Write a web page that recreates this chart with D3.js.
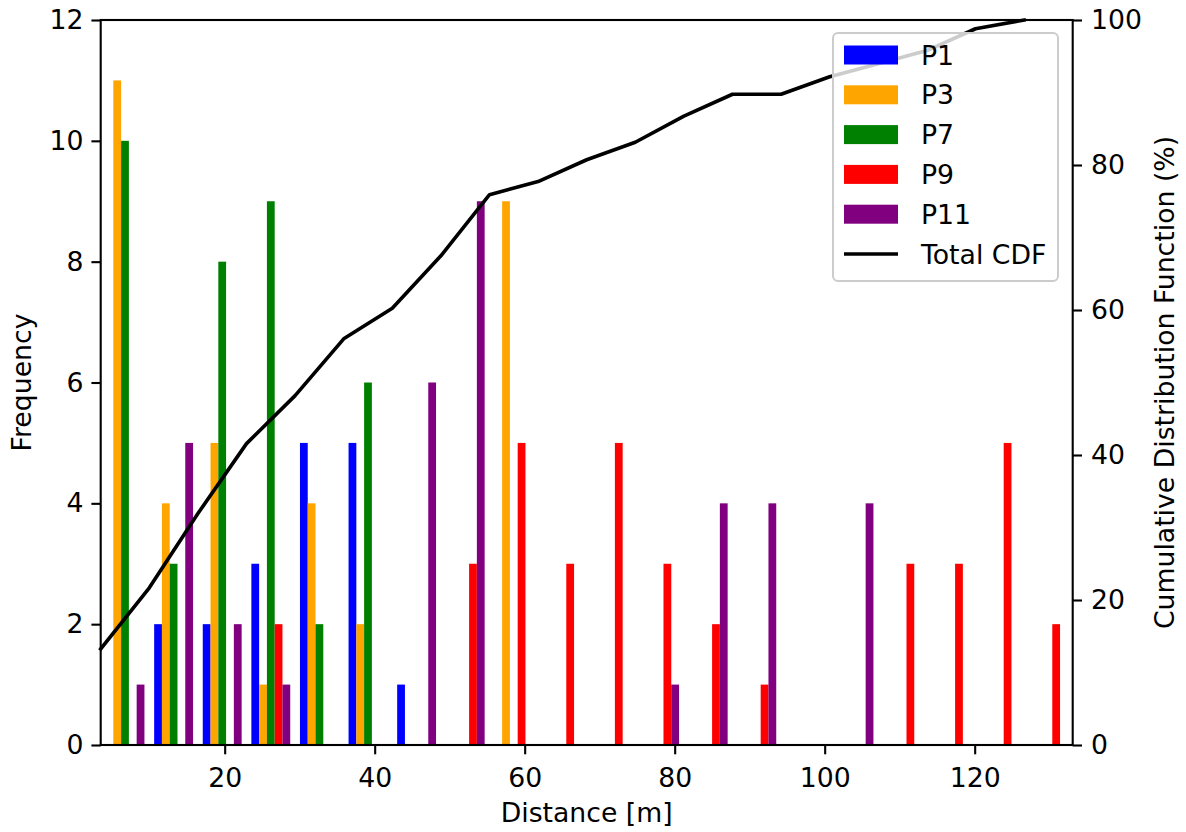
<!DOCTYPE html>
<html>
<head>
<meta charset="utf-8">
<script src="https://cdn.jsdelivr.net/npm/d3@7"></script>
<style>
	body { margin: 0; background: #fff; }
	svg text { font-family: "DejaVu Sans", sans-serif; font-size: 26.7px; fill: #000; }
	.tick text { font-size: 26.7px; }
</style>
</head>
<body>
<svg id="chart"></svg>
<script>
/*=================
=== The data
=================*/
// histogram: 20 bins between these two distances
var binStart = 3.47;
var binEnd = 133.07;
var binCount = 20;

var seriesNames = ['P1', 'P3', 'P7', 'P9', 'P11'];
var seriesColors = ['blue', 'orange', 'green', 'red', 'purple'];

// counts per bin
var countsP1 = [0, 2, 2, 3, 5, 5, 1, 0, 0, 0, 0, 0, 0, 0, 0, 0, 0, 0, 0, 0];
var countsP3 = [11, 4, 5, 1, 4, 2, 0, 0, 9, 0, 0, 0, 0, 0, 0, 0, 0, 0, 0, 0];
var countsP7 = [10, 3, 8, 9, 2, 6, 0, 0, 0, 0, 0, 0, 0, 0, 0, 0, 0, 0, 0, 0];
var countsP9 = [0, 0, 0, 2, 0, 0, 0, 3, 5, 3, 5, 3, 2, 1, 0, 0, 3, 3, 5, 2];
var countsP11 = [1, 5, 2, 1, 0, 0, 6, 9, 0, 0, 0, 1, 4, 4, 0, 4, 0, 0, 0, 0];

var xTicks = [20, 40, 60, 80, 100, 120];
var yTicks = [0, 2, 4, 6, 8, 10, 12];
var y2Ticks = [0, 20, 40, 60, 80, 100];

var allCounts = [countsP1, countsP3, countsP7, countsP9, countsP11];

/*=================
=== The vars
=================*/
var width = 1186;
var height = 832;
var margin = { top: 20, right: 113.3, bottom: 87, left: 100.7 };
var plotW = width - margin.left - margin.right;
var plotH = height - margin.top - margin.bottom;

var svg = d3.select('#chart')
	.attr('width', width)
	.attr('height', height);

var g = svg.append('g')
	.attr('transform', 'translate(' + margin.left + ',' + margin.top + ')');

var binW = (binEnd - binStart) / binCount;
var edges = d3.range(binCount + 1).map(function (i) { return binStart + i * binW; });

var x = d3.scaleLinear().domain([binStart, binEnd]).range([0, plotW]);
var y = d3.scaleLinear().domain([0, 12]).range([plotH, 0]);
var y2 = d3.scaleLinear().domain([0, 100]).range([plotH, 0]);

// cumulative of all series, in percent (plotted at left bin edges)
var totals = d3.range(binCount).map(function (i) {
	return d3.sum(allCounts, function (c) { return c[i]; });
});
var grand = d3.sum(totals);
var running = 0;
var cdf = totals.map(function (t, i) {
	running += t;
	return { x: edges[i], v: running / grand * 100 };
});

/*=================
=== Bars
=================*/
// matplotlib style: 80% of the bin shared by the series
var barW = binW * 0.8 / seriesNames.length;

allCounts.forEach(function (counts, s) {
	var bars = counts
		.map(function (c, i) { return { c: c, i: i }; })
		.filter(function (d) { return d.c > 0; });

	g.append('g')
		.selectAll('rect')
		.data(bars)
		.enter()
		.append('rect')
		.attr('x', function (d) { return x(edges[d.i] + binW * 0.1 + s * barW); })
		.attr('width', x(binStart + barW) - x(binStart))
		.attr('y', function (d) { return y(d.c); })
		.attr('height', function (d) { return plotH - y(d.c); })
		.attr('fill', seriesColors[s]);
});

/*=================
=== CDF line
=================*/
var cdfLine = d3.line()
	.x(function (d) { return x(d.x); })
	.y(function (d) { return y2(d.v); });

g.append('path')
	.datum(cdf)
	.attr('fill', 'none')
	.attr('stroke', 'black')
	.attr('stroke-width', 3.6)
	.attr('stroke-linejoin', 'round')
	.attr('stroke-linecap', 'square')
	.attr('d', cdfLine);

/*=================
=== Axes
=================*/
g.append('rect')
	.attr('width', plotW)
	.attr('height', plotH)
	.attr('fill', 'none')
	.attr('stroke', 'black')
	.attr('stroke-width', 2.1);

var xAxis = g.append('g')
	.attr('transform', 'translate(0,' + plotH + ')')
	.call(d3.axisBottom(x).tickValues(xTicks).tickSize(9.3).tickPadding(13.5).tickFormat(d3.format('d')));

var yAxis = g.append('g')
	.call(d3.axisLeft(y).tickValues(yTicks).tickSize(9.3).tickPadding(8).tickFormat(d3.format('d')));

var y2Axis = g.append('g')
	.attr('transform', 'translate(' + plotW + ',0)')
	.call(d3.axisRight(y2).tickValues(y2Ticks).tickSize(9.3).tickPadding(9).tickFormat(d3.format('d')));

[xAxis, yAxis, y2Axis].forEach(function (a) {
	a.select('.domain').remove();
	a.selectAll('.tick line').attr('stroke', 'black').attr('stroke-width', 2.1);
});

svg.append('text')
	.attr('x', margin.left + plotW / 2)
	.attr('y', 822)
	.attr('text-anchor', 'middle')
	.text('Distance [m]');

svg.append('text')
	.attr('transform', 'translate(31,' + (margin.top + plotH / 2) + ') rotate(-90)')
	.attr('text-anchor', 'middle')
	.text('Frequency');

svg.append('text')
	.attr('transform', 'translate(1174,' + (margin.top + plotH / 2) + ') rotate(-90)')
	.attr('text-anchor', 'middle')
	.text('Cumulative Distribution Function (%)');

/*=================
=== Legend
=================*/
var legend = svg.append('g')
	.attr('class', 'legend')
	.attr('transform', 'translate(833,33)');

legend.append('rect')
	.attr('width', 225)
	.attr('height', 248)
	.attr('rx', 5)
	.attr('fill', 'white')
	.attr('fill-opacity', 0.8)
	.attr('stroke', '#cccccc')
	.attr('stroke-width', 2);

var legendItems = seriesNames.concat(['Total CDF']);

var item = legend.selectAll('.item')
	.data(legendItems)
	.enter()
	.append('g')
	.attr('class', 'item')
	.attr('transform', function (d, i) { return 'translate(0,' + (22 + i * 39.8) + ')'; });

item.filter(function (d, i) { return i < seriesNames.length; })
	.append('rect')
	.attr('x', 11)
	.attr('y', -9.5)
	.attr('width', 54)
	.attr('height', 19)
	.attr('fill', function (d, i) { return seriesColors[i]; });

item.filter(function (d, i) { return i === seriesNames.length; })
	.append('line')
	.attr('x1', 11)
	.attr('x2', 65)
	.attr('stroke', 'black')
	.attr('stroke-width', 3.6);

item.append('text')
	.attr('x', 88)
	.attr('dy', '0.36em')
	.text(function (d) { return d; });
</script>
</body>
</html>
